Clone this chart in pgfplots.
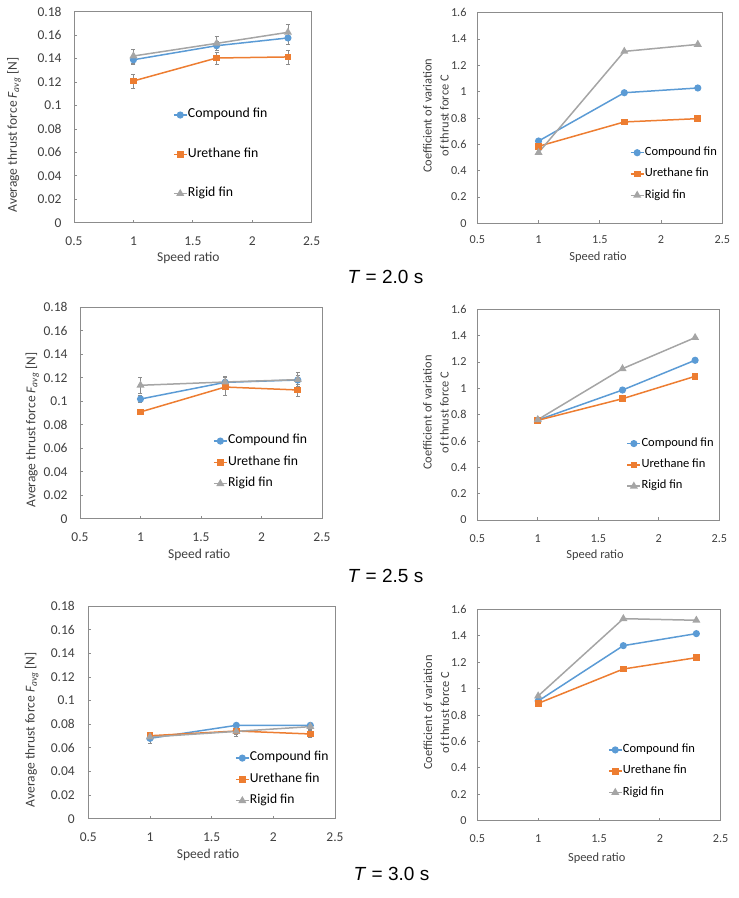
\documentclass[border=0pt]{standalone}
\usepackage{fontspec}
\setmainfont{Carlito}
\newfontfamily\arialf{Liberation Sans}
\usepackage{pgfplots}
\pgfplotsset{compat=1.18}
\definecolor{cblue}{HTML}{5B9BD5}
\definecolor{corange}{HTML}{ED7D31}
\definecolor{cgray}{HTML}{A5A5A5}
\definecolor{axgray}{HTML}{8C8C8C}
\definecolor{errgray}{HTML}{8C8C8C}
\definecolor{txt}{HTML}{404040}
\pgfplotsset{
  base/.style={
    scale only axis, clip=false,
    xmin=0.5, xmax=2.5, ymin=0,
    xtick={0.5,1,1.5,2,2.5},
    tick pos=left, tick align=inside, major tick length=3pt,
    axis line style={axgray, line width=0.75pt},
    tick style={axgray, line width=0.75pt},
    scaled y ticks=false, scaled x ticks=false,
    /pgf/number format/assume math mode=true,
    /pgf/number format/fixed,
    /pgf/number format/precision=2,
    ticklabel style={text=txt, inner sep=0pt},
    every axis label/.append style={text=txt},
    xlabel style={anchor=center},
    ylabel style={anchor=center},
    legend cell align=left,
    legend style={draw=none, fill=none, inner sep=0pt, outer sep=0pt, anchor=west, column sep=0pt,
      nodes={inner sep=0.4pt, text height=8pt, text depth=2.5pt}},
    legend image code/.code={\draw[mark repeat=2, mark phase=2] plot coordinates {(0pt,0pt)(6.5pt,0pt)(13pt,0pt)};},
    xlabel={Speed ratio},
  },
  leftp/.style={base, ymax=0.18,
    ytick={0,0.02,0.04,0.06,0.08,0.1,0.12,0.14,0.16,0.18},
    ticklabel style={font=\fontsize{13.5}{16}\selectfont},
    label style={font=\fontsize{13.5}{16}\selectfont},
    ylabel={Average thrust force \textit{F\textsubscript{avg}} [N]},
  },
  rightp/.style={base, ymax=1.6,
    ytick={0,0.2,0.4,0.6,0.8,1,1.2,1.4,1.6},
    ticklabel style={font=\fontsize{12.2}{14}\selectfont},
    label style={font=\fontsize{12.4}{17}\selectfont, align=center},
    ylabel={Coefficient of variation\\of thrust force C},
    yticklabel style={xshift=-10.6pt},
  },
  comp/.style={cblue, line width=1.5pt, mark=*, mark size=2.8pt, mark options={solid, fill=cblue, draw=cblue}},
  ureth/.style={corange, line width=1.5pt, mark=square*, mark size=2.6pt, mark options={solid, fill=corange, draw=corange}},
  rigid/.style={cgray, line width=1.5pt, mark=triangle*, mark size=3.2pt, mark options={solid, fill=cgray, draw=cgray}},
  ebar/.style={error bars/.cd, y dir=both, y explicit,
    error bar style={errgray, line width=0.6pt},
    error mark options={rotate=90, errgray, mark size=2pt, line width=0.6pt}},
}
\begin{document}
\begin{tikzpicture}
\useasboundingbox (0pt,0pt) rectangle (739pt,898pt);
% ---------- Panel 1 ----------
\begin{axis}[leftp, at={(74pt,675.3pt)}, anchor=south west, width=237.7pt, height=211pt,
  yticklabel style={xshift=-12.3pt}, xticklabel style={yshift=-13.7pt},
  xlabel style={at={(axis description cs:0.481,-0.168)}},
  ylabel style={at={(axis description cs:-0.2524,0.4156)}},
  legend style={at={(axis description cs:0.4165,0.324)}, row sep=28pt,
    nodes={font=\fontsize{13.8}{15}\selectfont}}]
\addplot+[comp, ebar] coordinates {(1,0.139) +- (0,0.004) (1.7,0.151) +- (0,0.004) (2.3,0.1576) +- (0,0.005)};
\addplot+[ureth, ebar] coordinates {(1,0.1209) +- (0,0.006) (1.7,0.1405) +- (0,0.005) (2.3,0.1414) +- (0,0.006)};
\addplot+[rigid, ebar] coordinates {(1,0.1422) +- (0,0.006) (1.7,0.153) +- (0,0.006) (2.3,0.1624) +- (0,0.007)};
\legend{Compound fin, Urethane fin, Rigid fin}
\end{axis}
% ---------- Panel 2 ----------
\begin{axis}[rightp, at={(477.3pt,674.7pt)}, anchor=south west, width=245pt, height=210.6pt,
  xticklabel style={yshift=-12.2pt},
  xlabel style={at={(axis description cs:0.4927,-0.1614)}},
  ylabel style={at={(axis description cs:-0.1686,0.5104)}},
  legend style={at={(axis description cs:0.623,0.234)}, row sep=10pt,
    nodes={font=\fontsize{12.5}{14}\selectfont}}]
\addplot+[comp] coordinates {(1,0.625) (1.7,0.992) (2.3,1.028)};
\addplot+[ureth] coordinates {(1,0.585) (1.7,0.77) (2.3,0.795)};
\addplot+[rigid] coordinates {(1,0.537) (1.7,1.306) (2.3,1.359)};
\legend{Compound fin, Urethane fin, Rigid fin}
\end{axis}
% ---------- Panel 3 ----------
\begin{axis}[leftp, at={(80pt,379.3pt)}, anchor=south west, width=242pt, height=211.4pt,
  yticklabel style={xshift=-12.3pt}, xticklabel style={yshift=-13.7pt},
  xlabel style={at={(axis description cs:0.4926,-0.171)}},
  ylabel style={at={(axis description cs:-0.197,0.4196)}},
  legend style={at={(axis description cs:0.55,0.2664)}, row sep=10pt,
    nodes={font=\fontsize{13.7}{15}\selectfont}}]
\addplot+[comp, ebar] coordinates {(1,0.1019) +- (0,0.003) (1.7,0.1161) +- (0,0.004) (2.3,0.1181) +- (0,0.004)};
\addplot+[ureth, ebar] coordinates {(1,0.0909) +- (0,0.002) (1.7,0.1121) +- (0,0.007) (2.3,0.1096) +- (0,0.005)};
\addplot+[rigid, ebar] coordinates {(1,0.1136) +- (0,0.007) (1.7,0.1164) +- (0,0.005) (2.3,0.1184) +- (0,0.006)};
\legend{Compound fin, Urethane fin, Rigid fin}
\end{axis}
% ---------- Panel 4 ----------
\begin{axis}[rightp, at={(477.3pt,378pt)}, anchor=south west, width=242pt, height=210.7pt,
  xticklabel style={yshift=-14.3pt},
  xlabel style={at={(axis description cs:0.4864,-0.1694)}},
  ylabel style={at={(axis description cs:-0.1707,0.5102)}},
  legend style={at={(axis description cs:0.617,0.2615)}, row sep=10pt,
    nodes={font=\fontsize{12.5}{14}\selectfont}}]
\addplot+[comp] coordinates {(1,0.759) (1.7,0.987) (2.3,1.213)};
\addplot+[ureth] coordinates {(1,0.757) (1.7,0.921) (2.3,1.091)};
\addplot+[rigid] coordinates {(1,0.762) (1.7,1.149) (2.3,1.385)};
\legend{Compound fin, Urethane fin, Rigid fin}
\end{axis}
% ---------- Panel 5 ----------
\begin{axis}[leftp, at={(88.3pt,79.3pt)}, anchor=south west, width=246.7pt, height=212.7pt,
  yticklabel style={xshift=-13.3pt}, xticklabel style={yshift=-13.7pt},
  xlabel style={at={(axis description cs:0.4852,-0.17)}},
  ylabel style={at={(axis description cs:-0.2294,0.4184)}},
  legend style={at={(axis description cs:0.595,0.1848)}, row sep=10pt,
    nodes={font=\fontsize{13.6}{15}\selectfont}}]
\addplot+[comp, ebar] coordinates {(1,0.068) +- (0,0.004) (1.7,0.079) +- (0,0.002) (2.3,0.079) +- (0,0.002)};
\addplot+[ureth, ebar] coordinates {(1,0.0702) +- (0,0.003) (1.7,0.0742) +- (0,0.003) (2.3,0.0717) +- (0,0.003)};
\addplot+[rigid, ebar] coordinates {(1,0.0691) +- (0,0.003) (1.7,0.0739) +- (0,0.004) (2.3,0.0779) +- (0,0.002)};
\legend{Compound fin, Urethane fin, Rigid fin}
\end{axis}
% ---------- Panel 6 ----------
\begin{axis}[rightp, at={(477.3pt,77.3pt)}, anchor=south west, width=243.4pt, height=211.4pt,
  xticklabel style={yshift=-13.8pt},
  xlabel style={at={(axis description cs:0.4906,-0.175)}},
  ylabel style={at={(axis description cs:-0.1684,0.5118)}},
  legend style={at={(axis description cs:0.537,0.2341)}, row sep=10pt,
    nodes={font=\fontsize{12.5}{14}\selectfont}}]
\addplot+[comp] coordinates {(1,0.906) (1.7,1.325) (2.3,1.416)};
\addplot+[ureth] coordinates {(1,0.888) (1.7,1.148) (2.3,1.234)};
\addplot+[rigid] coordinates {(1,0.944) (1.7,1.529) (2.3,1.517)};
\legend{Compound fin, Urethane fin, Rigid fin}
\end{axis}
% ---------- Captions ----------
\node[font=\arialf\fontsize{19}{22}\selectfont, inner sep=0pt] at (385.5pt,621pt) {\textit{T} = 2.0 s};
\node[font=\arialf\fontsize{19}{22}\selectfont, inner sep=0pt] at (385.5pt,322pt) {\textit{T} = 2.5 s};
\node[font=\arialf\fontsize{19}{22}\selectfont, inner sep=0pt] at (391.5pt,24pt) {\textit{T} = 3.0 s};
\end{tikzpicture}
\end{document}
